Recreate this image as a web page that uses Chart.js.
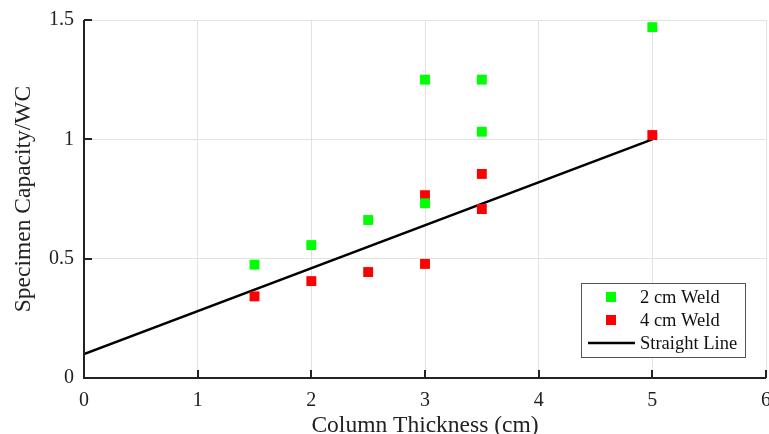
<!DOCTYPE html>
<html>
<head>
<meta charset="utf-8">
<script src="https://cdn.jsdelivr.net/npm/chart.js@4"></script>
<style>
  html, body { margin: 0; padding: 0; background: #fff; overflow: hidden; }
  #wrap { width: 769px; height: 434px; overflow: hidden; }
</style>
</head>
<body>
<!-- canvas a little wider than the window: Chart.js keeps room for half of the last x label -->
<div id="wrap"><canvas id="chart" width="773" height="434"></canvas></div>
<script>
// data
const weld2X = [1.5, 2.0, 2.5, 3.0, 3.0, 3.5, 3.5, 5.0];
const weld2Y = [0.475, 0.557, 0.662, 0.732, 1.25, 1.25, 1.032, 1.47];
const weld4X = [1.5, 2.0, 2.5, 3.0, 3.0, 3.5, 3.5, 5.0];
const weld4Y = [0.342, 0.406, 0.444, 0.766, 0.478, 0.855, 0.708, 1.018];
const lineX = [0, 5];
const lineY = [0.1, 1.0];
const xTicks = [0, 1, 2, 3, 4, 5, 6];
const yTicks = [0, 0.5, 1, 1.5];

const FONT = "'Liberation Serif', 'Times New Roman', serif";

function pts(xs, ys) {
  return xs.map((x, i) => ({ x: x, y: ys[i] }));
}

// axis lines with inward tick marks, like the original
const axisPlugin = {
  id: "axisPlugin",
  afterDatasetsDraw(chart) {
    const { ctx, chartArea: a, scales } = chart;
    ctx.save();
    ctx.strokeStyle = "#222";
    ctx.lineWidth = 2;
    ctx.beginPath();
    ctx.moveTo(a.left, a.top);
    ctx.lineTo(a.left, a.bottom);
    ctx.lineTo(a.right, a.bottom);
    xTicks.forEach(v => {
      const px = Math.round(scales.x.getPixelForValue(v));
      ctx.moveTo(px, a.bottom);
      ctx.lineTo(px, a.bottom - 8);
    });
    yTicks.forEach(v => {
      const py = Math.round(scales.y.getPixelForValue(v));
      ctx.moveTo(a.left, py);
      ctx.lineTo(a.left + 8, py);
    });
    ctx.stroke();
    ctx.restore();
  }
};

// boxed legend in the lower right corner
const legendPlugin = {
  id: "legendBox",
  afterDraw(chart) {
    const ctx = chart.ctx;
    const x0 = 581, y0 = 283, w = 164, h = 74;
    ctx.save();
    ctx.fillStyle = "#fff";
    ctx.fillRect(x0, y0, w, h);
    ctx.strokeStyle = "#555";
    ctx.lineWidth = 1;
    ctx.strokeRect(x0 + 0.5, y0 + 0.5, w, h);
    ctx.font = "18.5px " + FONT;
    ctx.textBaseline = "middle";
    chart.data.datasets.forEach((ds, i) => {
      const cy = y0 + 14 + i * 23;
      if (ds.showLine) {
        ctx.strokeStyle = ds.borderColor;
        ctx.lineWidth = 2.5;
        ctx.beginPath();
        ctx.moveTo(x0 + 7, cy);
        ctx.lineTo(x0 + 54, cy);
        ctx.stroke();
      } else {
        ctx.fillStyle = ds.backgroundColor;
        ctx.fillRect(x0 + 30 - 5, cy - 5, 10, 10);
      }
      ctx.fillStyle = "#111";
      ctx.fillText(ds.label, x0 + 59, cy + 1);
    });
    ctx.restore();
  }
};

new Chart(document.getElementById("chart"), {
  type: "scatter",
  data: {
    datasets: [
      {
        label: "2 cm Weld",
        data: pts(weld2X, weld2Y),
        backgroundColor: "#00ff00",
        borderColor: "#00ff00",
        pointStyle: "rect",
        pointRadius: 7,
        borderWidth: 0
      },
      {
        label: "4 cm Weld",
        data: pts(weld4X, weld4Y),
        backgroundColor: "#ff0000",
        borderColor: "#ff0000",
        pointStyle: "rect",
        pointRadius: 7,
        borderWidth: 0
      },
      {
        label: "Straight Line",
        data: pts(lineX, lineY),
        showLine: true,
        borderColor: "#000",
        backgroundColor: "#000",
        borderWidth: 2.5,
        pointRadius: 0,
        order: 5
      }
    ]
  },
  options: {
    responsive: false,
    animation: false,
    events: [],
    layout: { padding: { top: 20, right: 0, left: 0, bottom: 0 } },
    plugins: { legend: { display: false }, tooltip: { enabled: false } },
    scales: {
      x: {
        type: "linear",
        min: 0,
        max: 6,
        afterBuildTicks: s => { s.ticks = xTicks.map(v => ({ value: v })); },
        afterFit: s => { s.height = 56; s.paddingLeft = 0; s.paddingRight = 0; },
        grid: { color: "#e2e2e2", lineWidth: 1, drawTicks: false },
        border: { display: false },
        ticks: { color: "#222", padding: 11, font: { family: FONT, size: 20 }, callback: v => String(v) },
        title: {
          display: true,
          text: "Column Thickness (cm)",
          color: "#222",
          font: { family: FONT, size: 23.5 },
          padding: { top: 0, bottom: -6 }
        }
      },
      y: {
        type: "linear",
        min: 0,
        max: 1.5,
        afterBuildTicks: s => { s.ticks = yTicks.map(v => ({ value: v })); },
        afterFit: s => { s.width = 84; s.paddingTop = 0; s.paddingBottom = 0; },
        grid: { color: "#e2e2e2", lineWidth: 1, drawTicks: false },
        border: { display: false },
        ticks: { color: "#222", padding: 10, font: { family: FONT, size: 20 }, callback: v => String(v) },
        title: {
          display: true,
          text: "Specimen Capacity/WC",
          color: "#222",
          font: { family: FONT, size: 23.5 },
          padding: { top: 10, bottom: 0 }
        }
      }
    }
  },
  plugins: [axisPlugin, legendPlugin]
});
</script>
</body>
</html>
